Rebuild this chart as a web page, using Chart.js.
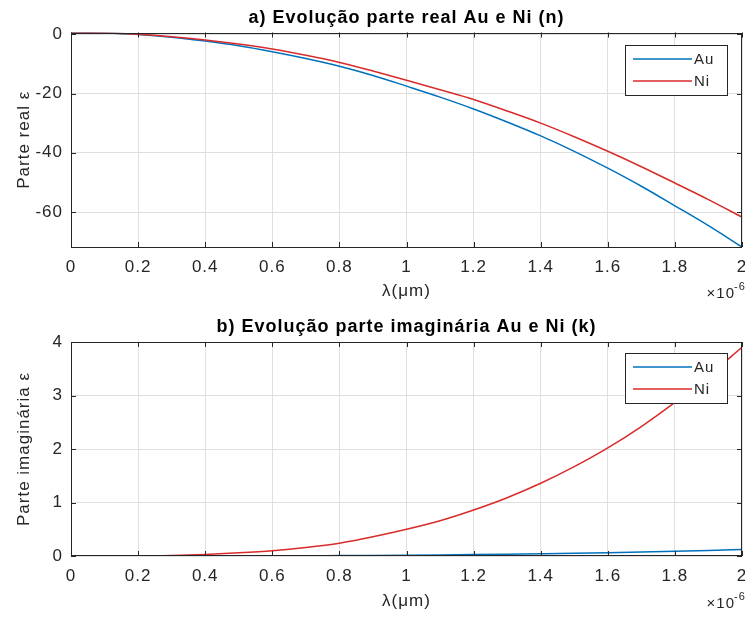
<!DOCTYPE html>
<html>
<head>
<meta charset="utf-8">
<script src="https://cdn.jsdelivr.net/npm/chart.js@4.4.1/dist/chart.umd.min.js"></script>
<style>
  html, body { margin: 0; padding: 0; background: #fff; }
  #wrap { position: relative; width: 745px; height: 617px; }
  canvas { position: absolute; left: 0; }
</style>
</head>
<body>
<div id="wrap">
  <canvas id="c1" width="745" height="310" style="top:0"></canvas>
  <canvas id="c2" width="745" height="307" style="top:310px"></canvas>
</div>
<script>
// wavelength, in units of 1e-6 (the axis shows x10^-6)
const lambda = [0, 0.1, 0.2, 0.3, 0.4, 0.5, 0.6, 0.7, 0.8, 0.9, 1.0,
                1.1, 1.2, 1.3, 1.4, 1.5, 1.6, 1.7, 1.8, 1.9, 2.0];

// a) real part
const auReal = [0.6, 0.4, -0.1, -1.0, -2.3, -3.9, -5.9, -8.2, -10.8, -13.9, -17.5,
                -21.2, -25.2, -29.6, -34.3, -39.5, -45.2, -51.3, -57.9, -64.6, -71.8];
const niReal = [0.6, 0.45, 0.0, -0.8, -1.9, -3.3, -5.0, -7.1, -9.5, -12.4, -15.5,
                -18.7, -22.0, -25.9, -30.0, -34.6, -39.5, -44.7, -50.2, -55.8, -61.7];

// b) imaginary part
const auImag = [0, 0, 0, 0, 0, 0.001, 0.003, 0.005, 0.008, 0.011, 0.015,
                0.02, 0.026, 0.033, 0.041, 0.05, 0.061, 0.073, 0.087, 0.103, 0.12];
const niImag = [0, 0, 0, 0.01, 0.03, 0.06, 0.1, 0.16, 0.24, 0.36, 0.5,
                0.66, 0.86, 1.09, 1.36, 1.67, 2.02, 2.42, 2.87, 3.37, 3.9];

const xTicks = [0, 0.2, 0.4, 0.6, 0.8, 1, 1.2, 1.4, 1.6, 1.8, 2];
const yTicksReal = [-60, -40, -20, 0];
const yTicksImag = [0, 1, 2, 3, 4];

const FONT = "'Liberation Sans', Arial, Helvetica, sans-serif";
const TXT = '#262626';
const AU_COLOR = '#0072BD';
const NI_COLOR = '#D92B2B';

// matlab-ish look: box, inward ticks on 4 sides, legend inside the axes, x10^-6
const matlabAxes = {
  id: 'matlabAxes',
  beforeUpdate(chart) { chart.ctx.letterSpacing = '1px'; },
  beforeDraw(chart) { chart.ctx.letterSpacing = '1px'; },
  afterDraw(chart, args, opts) {
    const { ctx, chartArea: a, scales } = chart;
    ctx.save();
    ctx.strokeStyle = TXT;
    ctx.lineWidth = 1;
    const tl = 5;
    ctx.beginPath();
    scales.x.ticks.forEach(t => {
      const px = Math.round(scales.x.getPixelForValue(t.value)) + 0.5;
      ctx.moveTo(px, a.bottom); ctx.lineTo(px, a.bottom - tl);
      ctx.moveTo(px, a.top); ctx.lineTo(px, a.top + tl);
    });
    scales.y.ticks.forEach(t => {
      const py = Math.round(scales.y.getPixelForValue(t.value)) + 0.5;
      ctx.moveTo(a.left, py); ctx.lineTo(a.left + tl, py);
      ctx.moveTo(a.right, py); ctx.lineTo(a.right - tl, py);
    });
    ctx.stroke();
    ctx.strokeRect(Math.round(a.left) + 0.5, Math.round(a.top) + 0.5,
                   Math.round(a.right - a.left) - 1, Math.round(a.bottom - a.top) - 1);

    // exponent
    ctx.fillStyle = TXT;
    ctx.textBaseline = 'alphabetic';
    ctx.textAlign = 'right';
    ctx.font = `15px ${FONT}`;
    ctx.fillText('×10', 735, 298);
    ctx.textAlign = 'left';
    ctx.font = `11px ${FONT}`;
    ctx.fillText('-6', 734, 290);

    // legend
    const bw = 102, bh = 50;
    const bx = Math.round(a.right) - 15 - bw;
    const by = Math.round(a.top) + opts.legendTop;
    ctx.fillStyle = '#fff';
    ctx.fillRect(bx, by, bw, bh);
    ctx.strokeStyle = TXT;
    ctx.lineWidth = 1;
    ctx.strokeRect(bx + 0.5, by + 0.5, bw, bh);
    chart.data.datasets.forEach((ds, i) => {
      const y = by + 14 + i * 22;
      ctx.strokeStyle = ds.borderColor;
      ctx.lineWidth = 1.5;
      ctx.beginPath();
      ctx.moveTo(bx + 8, y); ctx.lineTo(bx + 67, y);
      ctx.stroke();
      ctx.fillStyle = TXT;
      ctx.font = `15px ${FONT}`;
      ctx.textAlign = 'left';
      ctx.textBaseline = 'middle';
      ctx.fillText(ds.label, bx + 69, y + 1);
    });
    ctx.restore();
  }
};

function series(ys) {
  return lambda.map((x, i) => ({ x, y: ys[i] }));
}

function makeChart(canvasId, au, ni, cfg) {
  const font = { family: FONT, size: 17 };
  return new Chart(document.getElementById(canvasId), {
    type: 'line',
    data: {
      datasets: [
        { label: 'Au', data: series(au), borderColor: AU_COLOR, order: 1 },
        { label: 'Ni', data: series(ni), borderColor: NI_COLOR, order: 0 },
      ],
    },
    plugins: [matlabAxes],
    options: {
      responsive: false,
      devicePixelRatio: 1,
      animation: false,
      layout: { padding: { left: 0, right: 3, top: 0, bottom: 0 } },
      elements: {
        point: { radius: 0 },
        line: { borderWidth: 1.5, cubicInterpolationMode: 'monotone' },
      },
      plugins: {
        legend: { display: false },
        tooltip: { enabled: false },
        title: {
          display: true,
          text: cfg.title,
          fullSize: false,
          color: '#000',
          font: { family: FONT, size: 18, weight: 'bold', lineHeight: 1.2 },
          padding: { top: cfg.titleTop, bottom: cfg.titleBottom },
        },
        matlabAxes: { legendTop: cfg.legendTop },
      },
      scales: {
        x: {
          type: 'linear',
          min: 0,
          max: 2,
          afterBuildTicks: s => { s.ticks = xTicks.map(v => ({ value: v })); },
          afterFit: s => { s.height = cfg.xHeight; s.paddingLeft = 0; s.paddingRight = 0; },
          ticks: {
            color: TXT, font, padding: 10, maxRotation: 0, autoSkip: false,
            callback: v => String(Math.round(v * 10) / 10),
          },
          grid: { color: '#dfdfdf', drawTicks: false },
          border: { display: false },
          title: {
            display: true, text: 'λ(μm)', color: TXT, font,
            padding: { top: 0, bottom: cfg.xTitlePad },
          },
        },
        y: {
          min: cfg.yMin,
          max: cfg.yMax,
          afterBuildTicks: s => { s.ticks = cfg.yTicks.map(v => ({ value: v })); },
          afterFit: s => { s.width = 71; s.paddingTop = 0; s.paddingBottom = 0; },
          ticks: { color: TXT, font, padding: 8, callback: v => String(v) },
          grid: { color: '#dfdfdf', drawTicks: false },
          border: { display: false },
          title: {
            display: true, text: cfg.yTitle, color: TXT, font,
            padding: { top: 14, bottom: 0 },
          },
        },
      },
    },
  });
}

makeChart('c1', auReal, niReal, {
  title: 'a) Evolução parte real Au e Ni (n)',
  titleTop: 7, titleBottom: 3.9,
  yMin: -71.8, yMax: 0.6, yTicks: yTicksReal,
  yTitle: 'Parte real ε',
  xHeight: 63, xTitlePad: 8, legendTop: 12,
});

makeChart('c2', auImag, niImag, {
  title: 'b) Evolução parte imaginária Au e Ni (k)',
  titleTop: 6, titleBottom: 4.4,
  yMin: 0, yMax: 4, yTicks: yTicksImag,
  yTitle: 'Parte imaginária ε',
  xHeight: 61, xTitlePad: 5, legendTop: 11,
});
</script>
</body>
</html>
